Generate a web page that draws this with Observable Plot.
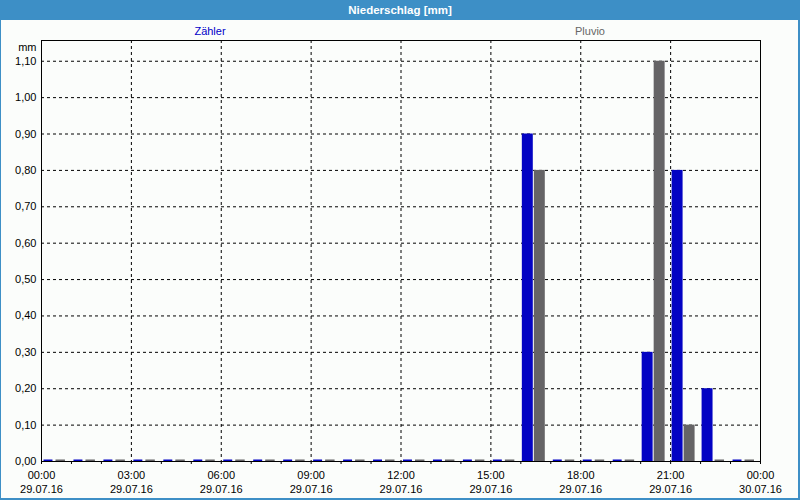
<!DOCTYPE html>
<html>
<head>
<meta charset="utf-8">
<script src="https://cdn.jsdelivr.net/npm/d3@7"></script>
<script src="https://cdn.jsdelivr.net/npm/@observablehq/plot@0.6"></script>
<style>
  html, body { margin: 0; padding: 0; background: #fbfdfb; }
  #wrap { position: relative; width: 800px; height: 500px; overflow: hidden; background: #fbfdfb; font-family: "Liberation Sans", Arial, sans-serif; }
  #title { height: 20px; background: #3d8fc6; color: #fff; font-weight: bold; font-size: 11.5px; line-height: 20px; text-align: center; }
  #legend { position: relative; height: 14px; font-size: 11px; }
  #legend span { position: absolute; top: 5px; line-height: 12px; transform: translateX(-50%); }
  .bl { position: absolute; background: #3d8fc6; }
</style>
</head>
<body>
<div id="wrap">
  <div id="title">Niederschlag [mm]</div>
  <div id="legend"></div>
  <div id="chart"></div>
  <div class="bl" style="left:0;top:0;width:1px;height:500px"></div>
  <div class="bl" style="right:0;top:0;width:2px;height:500px"></div>
  <div class="bl" style="left:0;bottom:0;width:800px;height:2px"></div>
</div>
<script>
// ---- data ----
const hours = d3.range(0, 24);
const seriesNames = ["Zähler", "Pluvio"];
const seriesColors = ["#0303c3", "#656466"];
const zaehler = [0, 0, 0, 0, 0, 0, 0, 0, 0, 0, 0, 0, 0, 0, 0, 0, 0.90, 0, 0, 0, 0.30, 0.80, 0.20, 0];
const pluvio  = [0, 0, 0, 0, 0, 0, 0, 0, 0, 0, 0, 0, 0, 0, 0, 0, 0.80, 0, 0, 0, 1.10, 0.10, 0, 0];
const xTickValues = [0, 3, 6, 9, 12, 15, 18, 21, 24];
const xTimeLabels = ["00:00", "03:00", "06:00", "09:00", "12:00", "15:00", "18:00", "21:00", "00:00"];
const xDateLabels = ["29.07.16", "29.07.16", "29.07.16", "29.07.16", "29.07.16", "29.07.16", "29.07.16", "29.07.16", "30.07.16"];
const yTickValues = [0, 0.1, 0.2, 0.3, 0.4, 0.5, 0.6, 0.7, 0.8, 0.9, 1.0, 1.1];
const yTickLabels = ["0,00", "0,10", "0,20", "0,30", "0,40", "0,50", "0,60", "0,70", "0,80", "0,90", "1,00", "1,10"];
const yUnit = "mm";

// legend
const legend = document.getElementById("legend");
[[seriesNames[0], 210], [seriesNames[1], 590]].forEach(([n, x], i) => {
  const s = document.createElement("span");
  s.textContent = n;
  s.style.left = x + "px";
  s.style.color = i === 0 ? "#0000c8" : "#666666";
  legend.appendChild(s);
});

const rowsZ = hours.map((h, i) => ({hour: h, value: zaehler[i]}));
const rowsP = hours.map((h, i) => ({hour: h, value: pluvio[i]}));

const chart = Plot.plot({
  width: 800,
  height: 466,
  marginLeft: 41,
  marginRight: 40,
  marginTop: 6,
  marginBottom: 39,
  style: {background: "transparent", fontFamily: "'Liberation Sans', Arial, sans-serif", fontSize: "11px", color: "black"},
  x: {domain: [0, 24]},
  y: {domain: [0, 1.157]},
  marks: [
    Plot.gridY({ticks: yTickValues.slice(1), stroke: "black", strokeOpacity: 1, strokeDasharray: "3,3"}),
    Plot.gridX({ticks: xTickValues.slice(1, -1), stroke: "black", strokeOpacity: 1, strokeDasharray: "3,3"}),
    // non-zero bars
    Plot.rect(rowsZ.filter(d => d.value > 0), {x1: "hour", x2: d => d.hour + 1, y1: 0, y2: "value", fill: seriesColors[0], insetLeft: 1.5, insetRight: 17.5}),
    Plot.rect(rowsP.filter(d => d.value > 0), {x1: "hour", x2: d => d.hour + 1, y1: 0, y2: "value", fill: seriesColors[1], insetLeft: 13.5, insetRight: 5.5}),
    // zero bars drawn as thin lines
    Plot.rect(rowsZ.filter(d => d.value === 0), {x1: "hour", x2: d => d.hour + 1, y1: "value", y2: "value", fill: seriesColors[0], insetLeft: 2.5, insetRight: 18.5, insetTop: -1.5}),
    Plot.rect(rowsP.filter(d => d.value === 0), {x1: "hour", x2: d => d.hour + 1, y1: "value", y2: "value", fill: seriesColors[1], insetLeft: 14.5, insetRight: 6, insetTop: -1.5}),
    Plot.frame({stroke: "black", strokeWidth: 1}),
    Plot.axisY({ticks: yTickValues, tickSize: 0, tickPadding: 5, tickFormat: (d, i) => yTickLabels[i], label: null}),
    Plot.text([yUnit], {frameAnchor: "top-left", text: d => d, dx: -5, dy: 7, textAnchor: "end", lineAnchor: "middle"}),
    Plot.axisX({ticks: hours.concat([24]), tickSize: 3, tickFormat: () => "", label: null}),
    Plot.axisX({ticks: xTickValues, tickSize: 0, tickPadding: 9.5, tickFormat: (d, i) => xTimeLabels[i], label: null}),
    Plot.axisX({ticks: xTickValues, tickSize: 0, tickPadding: 24, tickFormat: (d, i) => xDateLabels[i], label: null})
  ]
});
document.getElementById("chart").appendChild(chart);
</script>
</body>
</html>
